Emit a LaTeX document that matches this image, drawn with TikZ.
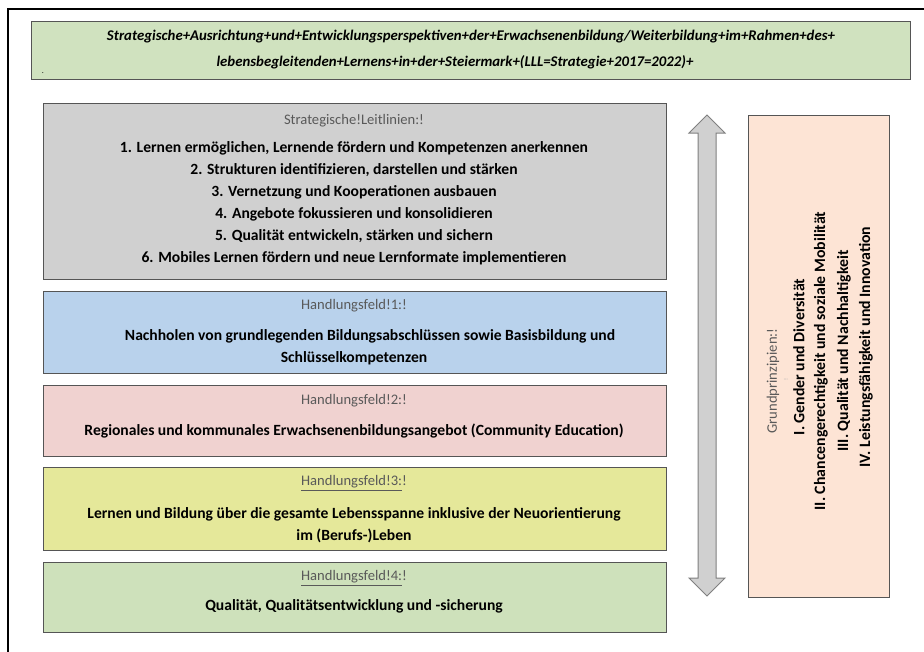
\documentclass[tikz,border=0pt]{standalone}
\usepackage{fontspec}
\setmainfont{Carlito}
\definecolor{titlegreen}{HTML}{D0E2BF}
\definecolor{boxgray}{HTML}{D0D0D0}
\definecolor{boxblue}{HTML}{B9D2EC}
\definecolor{boxpink}{HTML}{F0D2D0}
\definecolor{boxyellow}{HTML}{E5E89A}
\definecolor{boxgreen}{HTML}{CEE1BB}
\definecolor{boxpeach}{HTML}{FDE4D5}
\definecolor{edgegray}{HTML}{555555}
\definecolor{headgray}{HTML}{595959}
\begin{document}
\begin{tikzpicture}[x=1pt,y=-1pt,
  panel/.style={draw=edgegray, line width=1.3pt, anchor=north west, inner sep=0pt},
  headtext/.style={text=headgray, font=\fontsize{14.6}{17}\selectfont, inner sep=0pt},
  bodytext/.style={font=\bfseries\fontsize{15.6}{18}\selectfont, inner sep=0pt},
  titletext/.style={font=\bfseries\itshape\fontsize{14.8}{17}\selectfont, inner sep=0pt},
  sidetext/.style={font=\bfseries\fontsize{15.8}{18}\selectfont, inner sep=0pt, rotate=90},
  arrowshape/.style={draw=gray, fill=boxgray, line width=1pt, line join=miter}]
\useasboundingbox (0,0) rectangle (924,651);
\fill[white] (0,0) rectangle (924,651);
% outer frame (cut off at right and bottom)
\draw[line width=2.5pt] (8,660) -- (8,9) -- (935,9);

% title
\node[panel, fill=titlegreen, minimum width=879pt, minimum height=58pt] (title) at (31,21) {};
\node[titletext] (title1) at (471,37) {Strategische+Ausrichtung+und+Entwicklungsperspektiven+der+Erwachsenenbildung/Weiterbildung+im+Rahmen+des+};
\node[titletext] (title2) at (455,62) {lebensbegleitenden+Lernens+in+der+Steiermark+(LLL=Strategie+2017=2022)+};
\node[inner sep=0pt, font=\fontsize{8}{8}\selectfont] (titledot) at (43,73) {.};

% strategic guidelines
\node[panel, fill=boxgray, minimum width=623pt, minimum height=176pt] (lines) at (43,103) {};
\node[headtext] (linesh) at (354,121) {Strategische!Leitlinien:!};
\node[bodytext] (l1) at (354,148) {1. Lernen ermöglichen, Lernende fördern und Kompetenzen anerkennen};
\node[bodytext] (l2) at (354,170) {2. Strukturen identifizieren, darstellen und stärken};
\node[bodytext] (l3) at (354,192) {3. Vernetzung und Kooperationen ausbauen};
\node[bodytext] (l4) at (354,214) {4. Angebote fokussieren und konsolidieren};
\node[bodytext] (l5) at (354,236) {5. Qualität entwickeln, stärken und sichern};
\node[bodytext] (l6) at (354,258) {6. Mobiles Lernen fördern und neue Lernformate implementieren};

% field 1
\node[panel, fill=boxblue, minimum width=623pt, minimum height=82pt] (f1) at (43,291) {};
\node[headtext] (f1h) at (354,306) {Handlungsfeld!1:!};
\node[bodytext] (f1a) at (370,336) {Nachholen von grundlegenden Bildungsabschlüssen sowie Basisbildung und};
\node[bodytext] (f1b) at (354,358) {Schlüsselkompetenzen};

% field 2
\node[panel, fill=boxpink, minimum width=623pt, minimum height=71pt] (f2) at (43,385) {};
\node[headtext] (f2h) at (354,401) {Handlungsfeld!2:!};
\node[bodytext] (f2a) at (354,431) {Regionales und kommunales Erwachsenenbildungsangebot (Community Education)};

% field 3
\node[panel, fill=boxyellow, minimum width=623pt, minimum height=83pt] (f3) at (43,467) {};
\node[headtext] (f3h) at (354,483) {\underline{Handlungsfeld!3:}!};
\node[bodytext] (f3a) at (354,514) {Lernen und Bildung über die gesamte Lebensspanne inklusive der Neuorientierung};
\node[bodytext] (f3b) at (354,536) {im (Berufs-)Leben};

% field 4
\node[panel, fill=boxgreen, minimum width=623pt, minimum height=70pt] (f4) at (43,562) {};
\node[headtext] (f4h) at (354,578) {\underline{Handlungsfeld!4:}!};
\node[bodytext] (f4a) at (354,606) {Qualität, Qualitätsentwicklung und -sicherung};

% double arrow
\draw[arrowshape] (707,115) -- (725,133) -- (716,133) -- (716,578) -- (725,578)
  -- (707,596) -- (689,578) -- (698,578) -- (698,133) -- (689,133) -- cycle;

% principles
\node[panel, fill=boxpeach, minimum width=141pt, minimum height=482pt] (prin) at (748,115) {};
\node[headtext, rotate=90] (prinh) at (773,381) {Grundprinzipien:!};
\node[headtext, rotate=90, font=\fontsize{6}{6}\selectfont, text=gray!60] (prinsp) at (786,380) {!};
\node[sidetext] (p1) at (799,357) {I. Gender und Diversität};
\node[sidetext] (p2) at (821,361) {II. Chancengerechtigkeit und soziale Mobilität};
\node[sidetext] (p3) at (844,351) {III. Qualität und Nachhaltigkeit};
\node[sidetext] (p4) at (866,347) {IV. Leistungsfähigkeit und Innovation};
\end{tikzpicture}
\end{document}
